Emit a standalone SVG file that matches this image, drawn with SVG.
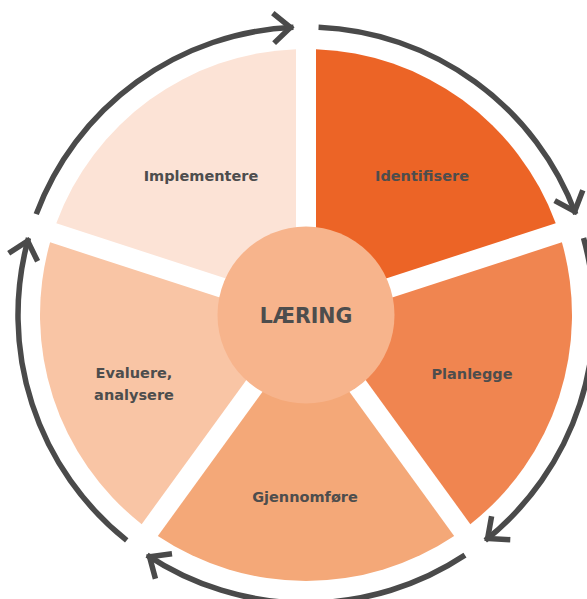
<svg xmlns="http://www.w3.org/2000/svg" width="587" height="599" viewBox="0 0 587 599">
  <style>
    .label { font-family: "DejaVu Sans", "Liberation Sans", sans-serif; font-weight: bold; font-size: 14.5px; fill: #4d4d4d; text-anchor: middle; }
    .hub { font-size: 20.5px; }
    .cycle { fill: none; stroke: #4a4a4a; stroke-width: 5.5; marker-end: url(#chevron); }
  </style>
  <defs>
    <!-- one wedge of the ring, -90deg to -18deg, edges pulled in 10px to leave white gaps -->
    <path id="wedge" d="M316,301.24 L316,49.19 A266,266 0 0 1 555.71,223.35 Z"/>
    <marker id="chevron" markerUnits="userSpaceOnUse" markerWidth="40" markerHeight="40" refX="0" refY="0" orient="auto" overflow="visible">
      <path d="M-20,-15 L-3,0 L-20,15" fill="none" stroke="#4a4a4a" stroke-width="5.5" stroke-linejoin="miter"/>
    </marker>
  </defs>

  <rect width="587" height="599" fill="#ffffff"/>

  <g id="identifisere">
    <use href="#wedge" fill="#EC6426"/>
    <text class="label" x="422" y="181">Identifisere</text>
  </g>
  <g id="planlegge">
    <use href="#wedge" fill="#F08550" transform="rotate(72 306 315)"/>
    <text class="label" x="472" y="379">Planlegge</text>
  </g>
  <g id="gjennomfore">
    <use href="#wedge" fill="#F4A878" transform="rotate(144 306 315)"/>
    <text class="label" x="305" y="502">Gjennomføre</text>
  </g>
  <g id="evaluere">
    <use href="#wedge" fill="#F9C5A5" transform="rotate(216 306 315)"/>
    <text class="label" x="134" y="378">Evaluere,</text>
    <text class="label" x="134" y="400">analysere</text>
  </g>
  <g id="implementere">
    <use href="#wedge" fill="#FCE3D6" transform="rotate(288 306 315)"/>
    <text class="label" x="201" y="181">Implementere</text>
  </g>
  <g id="laering">
    <circle cx="306" cy="315" r="88.5" fill="#F7B48C"/>
    <text class="label hub" x="306" y="323">LÆRING</text>
  </g>

  <!-- clockwise arrows around the ring -->
  <g id="connectors">
    <path class="cycle" d="M318.56,27.27 A288,288 0 0 1 575.76,214.14"/>
    <path class="cycle" d="M318.56,27.27 A288,288 0 0 1 575.76,214.14" transform="rotate(72 306 315)"/>
    <path class="cycle" d="M318.56,27.27 A288,288 0 0 1 575.76,214.14" transform="rotate(144 306 315)"/>
    <path class="cycle" d="M318.56,27.27 A288,288 0 0 1 575.76,214.14" transform="rotate(216 306 315)"/>
    <path class="cycle" d="M318.56,27.27 A288,288 0 0 1 575.76,214.14" transform="rotate(288 306 315)"/>
  </g>
</svg>
